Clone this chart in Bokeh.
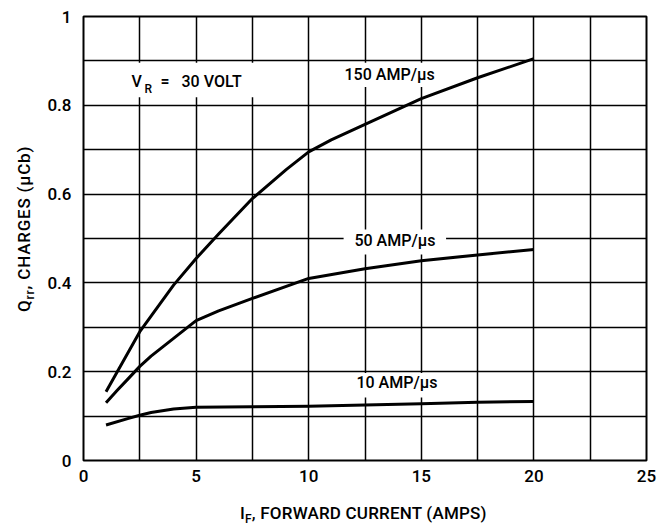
import math
from bokeh.plotting import figure
from bokeh.models import FixedTicker, Label, BoxAnnotation, Range1d, Div
from bokeh.layouts import row, column
from bokeh.embed import file_html
from bokeh.resources import INLINE

# ---- data ----
if_150 = [1, 1.5, 2, 2.5, 3, 4, 5, 6, 7.5, 9, 10, 11, 12.5, 15, 17.5, 20]
qrr_150 = [0.155, 0.2, 0.245, 0.29, 0.325, 0.395, 0.455, 0.51, 0.59, 0.655, 0.695, 0.722, 0.757, 0.815, 0.862, 0.905]

if_50 = [1, 1.5, 2, 2.5, 3, 4, 5, 6, 7.5, 10, 12.5, 15, 17.5, 20]
qrr_50 = [0.13, 0.158, 0.185, 0.212, 0.235, 0.275, 0.315, 0.337, 0.365, 0.41, 0.432, 0.45, 0.463, 0.475]

if_10 = [1, 2, 2.5, 3, 4, 5, 7.5, 10, 12.5, 15, 17.5, 20]
qrr_10 = [0.08, 0.095, 0.102, 0.108, 0.116, 0.12, 0.121, 0.122, 0.125, 0.128, 0.131, 0.133]

x_ticks = [0, 5, 10, 15, 20, 25]
y_ticks = [0, 0.2, 0.4, 0.6, 0.8, 1]
y_tick_labels = ["0", "0.2", "0.4", "0.6", "0.8", "1"]
x_grid = [0, 2.5, 5, 7.5, 10, 12.5, 15, 17.5, 20, 22.5, 25]
y_grid = [0, 0.1, 0.2, 0.3, 0.4, 0.5, 0.6, 0.7, 0.8, 0.9, 1]

FONT = "Roboto Medium"

p = figure(frame_width=563, frame_height=444,
           x_range=Range1d(0, 25), y_range=Range1d(0, 1),
           output_backend="svg", toolbar_location=None,
           min_border_left=38, min_border_right=14,
           min_border_top=16, min_border_bottom=30, margin=0)

p.background_fill_color = "white"
p.border_fill_color = "white"
p.outline_line_color = "black"
p.outline_line_width = 2
p.outline_line_alpha = 1

p.xaxis.ticker = FixedTicker(ticks=x_ticks)
p.yaxis.ticker = FixedTicker(ticks=y_ticks)
p.yaxis.major_label_overrides = {t: s for t, s in zip(y_ticks, y_tick_labels)}
p.xgrid.ticker = FixedTicker(ticks=x_grid)
p.ygrid.ticker = FixedTicker(ticks=y_grid)
for g in (p.xgrid, p.ygrid):
    g.grid_line_color = "black"
    g.grid_line_width = 1.5
    g.grid_line_alpha = 1

for ax in (p.xaxis, p.yaxis):
    ax.axis_line_color = None
    ax.major_tick_line_color = None
    ax.minor_tick_line_color = None
    ax.major_tick_out = 0
    ax.major_tick_in = 0
    ax.minor_tick_out = 0
    ax.major_label_text_font = FONT
    ax.major_label_text_font_size = "17px"
    ax.major_label_text_color = "black"
p.xaxis.major_label_standoff = 9
p.yaxis.major_label_standoff = 12

for xs, ys in ((if_150, qrr_150), (if_50, qrr_50), (if_10, qrr_10)):
    p.line(xs, ys, line_color="black", line_width=3, line_join="round")

# white boxes behind the in-plot labels
for l, r, b, t in ((1.91, 7.82, 0.818, 0.896),
                   (11.4, 16.1, 0.841, 0.896),
                   (11.55, 16.1, 0.464, 0.52),
                   (11.2, 17.2, 0.142, 0.197)):
    p.add_layout(BoxAnnotation(left=l, right=r, bottom=b, top=t,
                               fill_color="white", fill_alpha=1,
                               line_color=None, level="overlay"))

def lab(x, y, text, size="16px"):
    p.add_layout(Label(x=x, y=y, text=text, text_font=FONT,
                       text_font_size=size, text_color="black",
                       text_align="left", text_baseline="middle",
                       level="overlay"))

# V_R = 30 VOLT
lab(2.13, 0.854, "V")
lab(2.71, 0.837, "R", "12px")
lab(3.42, 0.854, "=")
lab(4.35, 0.854, "30 VOLT")

# curve labels
lab(11.59, 0.870, "150 AMP/µs")
lab(12.03, 0.495, "50 AMP/µs")
lab(12.12, 0.176, "10 AMP/µs")

# axis titles (with subscripts) as HTML text beside the plot
x_title = ("<div style=\"position:relative;width:615px;height:33px;\">"
           "<span style=\"position:absolute;left:196px;top:15px;white-space:nowrap;"
           "font-family:Roboto;font-weight:500;font-size:17px;line-height:17px;letter-spacing:0.2px;color:black;\">"
           "I<span style=\"font-size:12px;vertical-align:-4px;\">F</span>, FORWARD CURRENT (AMPS)"
           "</span></div>")
y_title = ("<div style=\"position:relative;width:44px;height:525px;\">"
           "<span style=\"position:absolute;left:16px;top:312px;white-space:nowrap;"
           "transform:rotate(-90deg);transform-origin:0 0;"
           "font-family:Roboto;font-weight:500;font-size:17px;line-height:17px;letter-spacing:0.8px;color:black;\">"
           "Q<span style=\"font-size:12px;vertical-align:-4px;\">rr</span>, CHARGES (µCb)"
           "</span></div>")

xdiv = Div(text=x_title, width=615, height=33, margin=0, styles={"overflow": "visible"})
ydiv = Div(text=y_title, width=44, height=523, margin=0, styles={"overflow": "visible"})

layout = row(ydiv, column(p, xdiv, spacing=0, margin=0), spacing=0, margin=0)

open("out.html", "w").write(file_html(layout, INLINE))
